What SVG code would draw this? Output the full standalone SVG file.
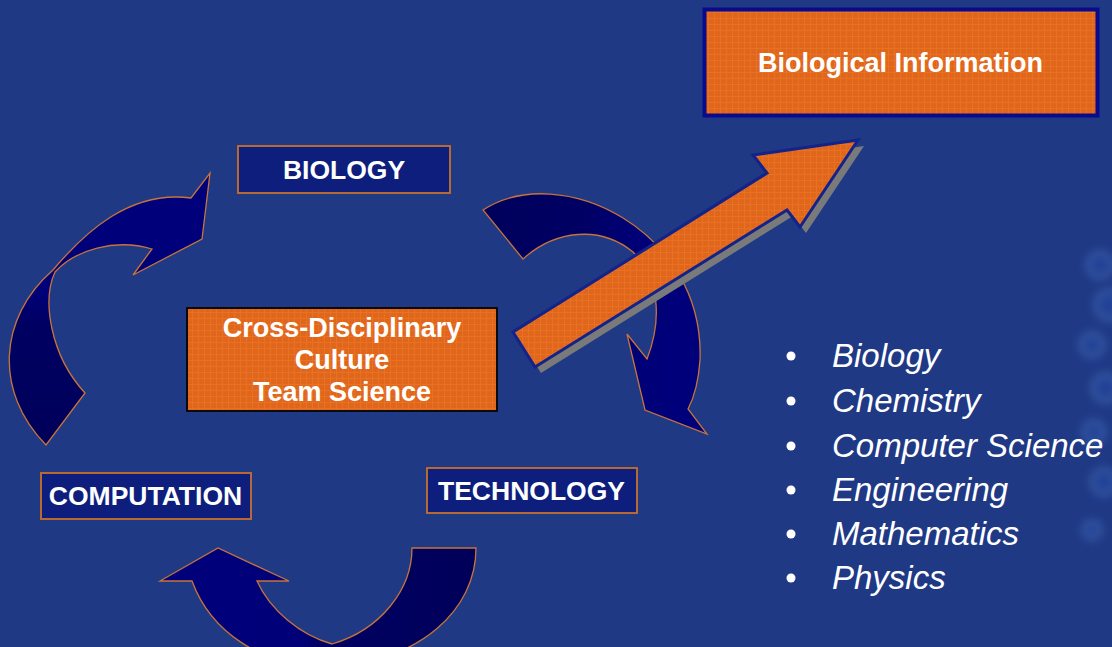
<svg xmlns="http://www.w3.org/2000/svg" width="1112" height="647" viewBox="0 0 1112 647">
<defs>
<style>
.bg{fill:#1f3985}
.curve{stroke:#c8733a;stroke-width:1.3;stroke-linejoin:miter}
.lbl{fill:#0e1e7c;stroke:#c8702a;stroke-width:1.8}
.orng{fill:url(#tex)}
.t{font-family:"Liberation Sans",Arial,sans-serif;font-weight:bold;font-size:27px;fill:#ffffff;text-anchor:middle}
.c{font-size:26.5px}
.li{font-family:"Liberation Sans",Arial,sans-serif;font-style:italic;font-size:33px;fill:#ffffff}
.dot{fill:#ffffff}
</style>
<pattern id="tex" width="6" height="6" patternUnits="userSpaceOnUse">
<rect width="6" height="6" fill="#df661c"/>
<path d="M0 0.5H6M0.5 0V6" stroke="#f07a22" stroke-width="1" opacity="0.6"/>
</pattern>
<linearGradient id="gL" x1="0" y1="1" x2="0" y2="0">
<stop offset="0" stop-color="#00005a"/><stop offset="0.45" stop-color="#000062"/><stop offset="0.55" stop-color="#000078"/><stop offset="1" stop-color="#00007c"/>
</linearGradient>
<linearGradient id="gR" x1="0" y1="0" x2="1" y2="0">
<stop offset="0" stop-color="#00005c"/><stop offset="0.45" stop-color="#000064"/><stop offset="0.7" stop-color="#000078"/><stop offset="1" stop-color="#00007c"/>
</linearGradient>
<linearGradient id="gB" x1="1" y1="0" x2="0" y2="0">
<stop offset="0" stop-color="#00005a"/><stop offset="0.5" stop-color="#000062"/><stop offset="0.55" stop-color="#000078"/><stop offset="1" stop-color="#00007c"/>
</linearGradient>
<filter id="blur" x="-50%" y="-50%" width="200%" height="200%"><feGaussianBlur stdDeviation="4"/></filter>
</defs>

<rect class="bg" width="1112" height="647"/>

<g id="cells" filter="url(#blur)" opacity="0.35" fill="#2a55b8" stroke="#6fa8e8" stroke-width="3">
<circle cx="1100" cy="265" r="13"/>
<circle cx="1110" cy="305" r="15"/>
<circle cx="1092" cy="345" r="12"/>
<circle cx="1106" cy="388" r="14"/>
<circle cx="1094" cy="432" r="11"/>
<circle cx="1104" cy="482" r="13"/>
<circle cx="1092" cy="530" r="9"/>
</g>

<g id="connectors">
<path id="arrow-comp-bio" class="curve" fill="url(#gL)" d="M46 445 C-6 392 -2 318 53 270 C85 232 130 190 191 198 L210 173 L202 239 L133 275 L152 249 C115 238 75 250 55 272 C42 300 50 355 85 393 Z"/>
<path id="arrow-bio-tech" class="curve" fill="url(#gR)" d="M483 210 C560 160 705 230 700 360 Q698 390 688 409 L707 434 L645 410 L627 334 L647 359 C662 320 660 280 633 252 C600 225 555 230 523 259 Z"/>
<path id="arrow-tech-comp" class="curve" fill="url(#gB)" d="M412 548 L476 548 C476 610 420 662 330 666 C260 668 210 630 192 581 L160 581 L218 548 L289 581 L257 581 C270 610 300 635 332 644 C380 630 412 590 412 548 Z"/>
<g id="arrow-info">
<path fill="#7a7a7a" d="M519 338 L773 179 L759 161 L864 146 L806 233 L793 216 L541 373 Z"/>
<path class="orng" stroke="#13238a" stroke-width="3" stroke-linejoin="miter" d="M513 332 L767 173 L753 155 L858 140 L800 227 L787 210 L535 367 Z"/>
</g>
</g>

<g id="node-bioinfo">
<rect x="704.5" y="9.5" width="393" height="106" class="orng" stroke="#0a0a8c" stroke-width="4"/>
<text class="t" x="900.5" y="72">Biological Information</text>
</g>

<g id="node-biology">
<rect class="lbl" x="238" y="146" width="212" height="47"/>
<text class="t c" x="344" y="179">BIOLOGY</text>
</g>

<g id="node-computation">
<rect class="lbl" x="41" y="473" width="210" height="46"/>
<text class="t c" x="145.5" y="505">COMPUTATION</text>
</g>

<g id="node-technology">
<rect class="lbl" x="427" y="468" width="210" height="45"/>
<text class="t c" x="531.5" y="500">TECHNOLOGY</text>
</g>

<g id="node-culture">
<rect x="187" y="308" width="310" height="103" class="orng" stroke="#0a0a0a" stroke-width="2"/>
<text class="t" x="342" y="337">Cross-Disciplinary</text>
<text class="t" x="342" y="369">Culture</text>
<text class="t" x="342" y="401">Team Science</text>
</g>

<g id="list">
<circle class="dot" cx="791" cy="356" r="4.5"/><text class="li" x="832" y="367">Biology</text>
<circle class="dot" cx="791" cy="401" r="4.5"/><text class="li" x="832" y="412">Chemistry</text>
<circle class="dot" cx="791" cy="446" r="4.5"/><text class="li" x="832" y="457">Computer Science</text>
<circle class="dot" cx="791" cy="490" r="4.5"/><text class="li" x="832" y="501">Engineering</text>
<circle class="dot" cx="791" cy="534" r="4.5"/><text class="li" x="832" y="545">Mathematics</text>
<circle class="dot" cx="791" cy="578" r="4.5"/><text class="li" x="832" y="589">Physics</text>
</g>
</svg>
